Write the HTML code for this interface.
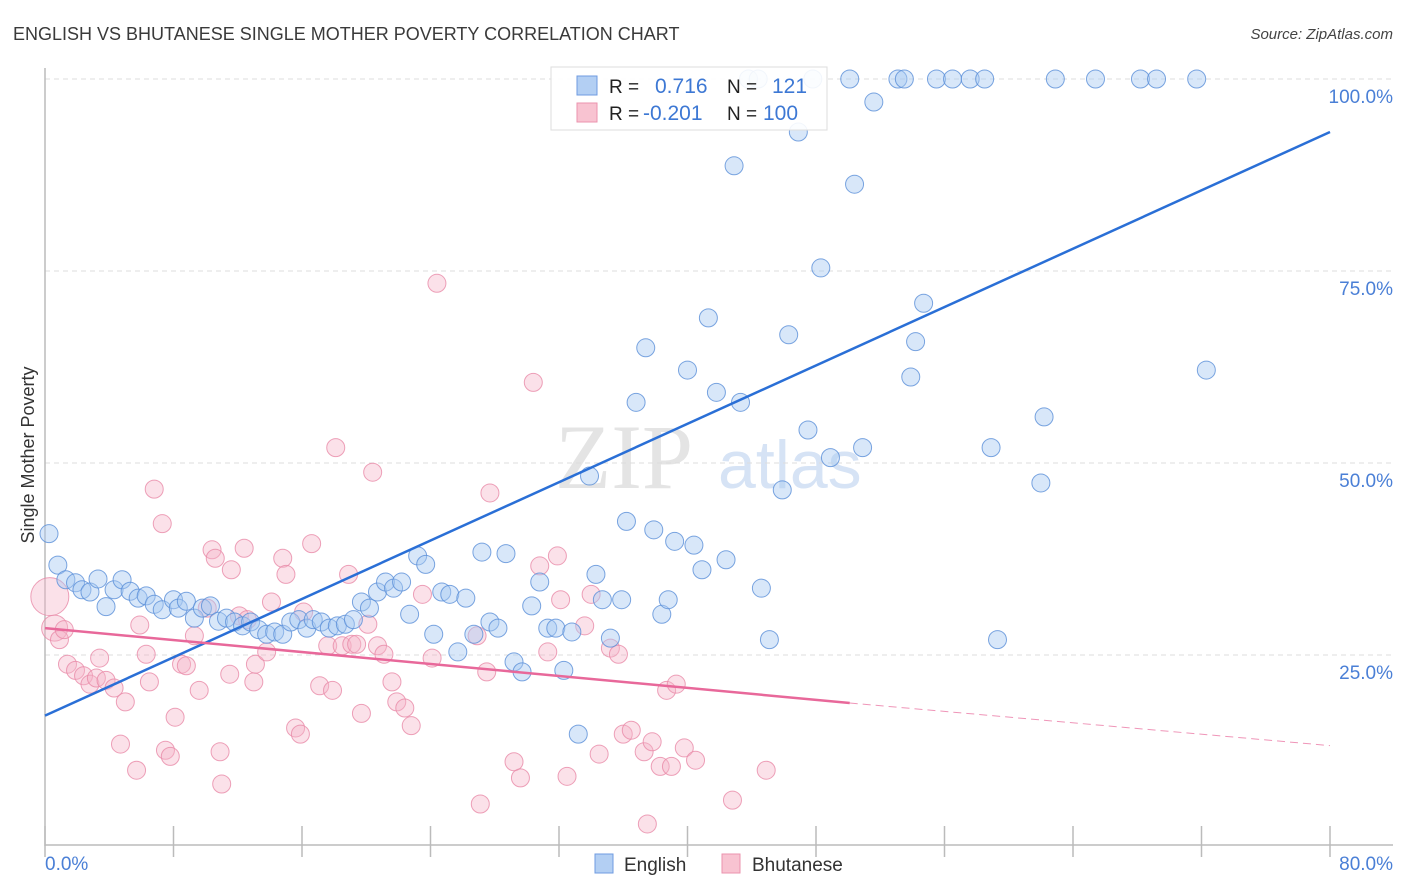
<!DOCTYPE html>
<html><head><meta charset="utf-8"><style>
body{margin:0;background:#fff;font-family:"Liberation Sans",sans-serif}
svg{display:block}
</style></head><body>
<svg id="chart" width="1406" height="892" xmlns="http://www.w3.org/2000/svg" font-family="Liberation Sans, sans-serif">
<text x="13" y="40" font-size="18" fill="#3a3a3a">ENGLISH VS BHUTANESE SINGLE MOTHER POVERTY CORRELATION CHART</text>
<text x="1393" y="39" font-size="15" fill="#444" font-style="italic" text-anchor="end">Source: ZipAtlas.com</text>
<text x="555" y="488" font-size="92" fill="#e4e4e4" font-family="Liberation Serif, serif">ZIP</text>
<text x="718" y="488" font-size="68" fill="#d6e3f5">atlas</text>
<text transform="translate(34,455) rotate(-90)" font-size="18" fill="#333" text-anchor="middle">Single Mother Poverty</text>
<g id="grid"></g>
<g id="axes"></g>
<g id="pts"></g>
<g id="trend"></g>
<g>
<rect x="551" y="67" width="276" height="63" fill="#fff" fill-opacity="0.9" stroke="#ddd"/>
<rect x="577" y="76" width="20" height="19" fill="#b3cff3" stroke="#6f9be0"/>
<rect x="577" y="103" width="20" height="19" fill="#f8c3d1" stroke="#eb93ae"/>
<text x="609" y="93" font-size="19" fill="#222">R =</text>
<text x="655" y="93" font-size="21" fill="#3d78d4">0.716</text>
<text x="727" y="93" font-size="19" fill="#222">N =</text>
<text x="772" y="93" font-size="21" fill="#3d78d4">121</text>
<text x="609" y="120" font-size="19" fill="#222">R =</text>
<text x="643" y="120" font-size="21" fill="#3d78d4">-0.201</text>
<text x="727" y="120" font-size="19" fill="#222">N =</text>
<text x="763" y="120" font-size="21" fill="#3d78d4">100</text>
</g>
<g>
<rect x="595" y="854" width="18" height="19" fill="#b3cff3" stroke="#6f9be0"/>
<text x="624" y="871" font-size="19" fill="#333">English</text>
<rect x="722" y="854" width="18" height="19" fill="#f8c3d1" stroke="#eb93ae"/>
<text x="752" y="871" font-size="19" fill="#333">Bhutanese</text>
</g>
</svg>
<script>
const yTicks=[25,50,75,100];
const yTickLabels=["25.0%","50.0%","75.0%","100.0%"];
const xTickCount=10;
const englishX=[0.25,0.8,1.3,1.9,2.3,2.8,3.3,3.8,4.3,4.8,5.3,5.8,6.3,6.8,7.3,8.0,8.3,8.8,9.3,9.8,10.3,10.8,11.3,11.8,12.3,12.8,13.3,13.8,14.3,14.8,15.3,15.8,16.3,16.7,17.2,17.7,18.2,18.7,19.2,19.7,20.2,20.7,21.2,21.7,22.2,22.7,23.2,23.7,24.2,24.7,25.2,25.7,26.2,26.7,27.2,27.7,28.2,28.7,29.2,29.7,30.3,30.8,31.3,31.8,32.3,32.8,33.2,33.9,34.3,34.7,35.2,35.9,36.2,36.8,37.4,37.9,38.4,38.8,39.2,40.0,40.4,40.9,41.3,41.8,42.4,42.9,43.3,43.8,44.4,44.6,45.1,45.9,46.3,46.9,47.5,47.8,48.3,48.9,50.1,50.4,50.9,51.6,53.1,53.5,53.9,54.2,54.7,55.5,56.5,57.6,58.5,58.9,59.3,62.0,62.2,62.9,65.4,68.2,69.2,71.7,72.3];
const englishY=[40.8,36.7,34.8,34.4,33.5,33.2,34.9,31.3,33.5,34.8,33.3,32.4,32.7,31.6,30.9,32.2,31.1,32.0,29.8,31.1,31.4,29.4,29.8,29.3,28.8,29.3,28.3,27.7,28.0,27.7,29.3,29.6,28.5,29.6,29.3,28.5,28.8,29.0,29.6,31.9,31.1,33.2,34.5,33.7,34.5,30.3,37.9,36.8,27.7,33.2,32.9,25.4,32.4,27.7,38.4,29.3,28.5,38.2,24.1,22.8,31.4,34.5,28.5,28.5,23.0,28.0,14.7,48.3,35.5,32.2,27.2,32.2,42.4,57.9,65.0,41.3,30.3,32.2,39.8,62.1,39.3,36.1,68.9,59.2,37.4,88.7,57.9,100,100,33.7,27.0,46.5,66.7,93.1,54.3,100,75.4,50.7,100,86.3,52.0,97.0,100,100,61.2,65.8,70.8,100,100,100,100,52.0,27.0,47.4,56.0,100,100,100,100,100,62.1];
const bhutaneseX=[0.3,0.6,0.9,1.2,1.4,1.9,2.4,2.8,3.2,3.4,3.8,4.3,4.7,5.0,5.7,5.9,6.3,6.5,6.8,7.3,7.5,7.8,8.1,8.5,8.8,9.3,9.6,10.1,10.4,10.6,10.9,11.0,11.5,11.6,12.1,12.4,12.6,13.0,13.1,13.8,14.1,14.8,15.0,15.6,15.9,16.1,16.6,17.1,17.6,17.9,18.1,18.5,18.9,19.1,19.4,19.7,20.1,20.4,20.7,21.1,21.6,21.9,22.4,22.8,23.5,24.1,24.4,26.9,27.1,27.5,27.7,29.2,29.6,30.4,30.8,31.3,31.9,32.1,32.5,33.6,34.0,34.5,35.2,35.7,36.0,36.5,37.3,37.5,37.8,38.3,38.7,39.0,39.3,39.8,40.5,42.8,44.9];
const bhutaneseY=[32.6,28.5,27.0,28.3,23.8,23.0,22.3,21.2,22.0,24.6,21.7,20.7,13.4,18.9,10.0,28.9,25.1,21.5,46.6,42.1,12.6,11.8,16.9,23.8,23.6,27.5,20.4,31.1,38.7,37.6,12.4,8.2,22.5,36.1,30.1,38.9,29.6,21.5,23.8,25.4,31.9,37.6,35.5,15.5,14.7,30.6,39.5,21.0,26.2,20.4,52.0,26.2,35.5,26.4,26.4,17.4,29.0,48.8,26.2,25.1,21.5,18.9,18.1,15.8,32.9,24.6,73.4,27.5,5.6,22.8,46.1,11.1,9.0,60.5,36.6,25.4,37.9,32.2,9.2,28.8,32.9,12.1,25.9,25.1,14.7,15.2,12.4,3.0,13.7,10.5,20.4,10.5,21.2,12.9,11.3,6.1,10.0];
const englishTrend=[17.1,93.1];
const bhutaneseTrend=[28.5,18.75,13.2];
const bhutaneseSolidEnd=50.1;

const NS="http://www.w3.org/2000/svg";
const X0=45,X1=1330,Y0=847,YS=7.68;
const sx=v=>X0+v/80*(X1-X0);
const sy=v=>Y0-v*YS;
function mk(tag,attrs,parent){const e=document.createElementNS(NS,tag);for(const k in attrs)e.setAttribute(k,attrs[k]);parent.appendChild(e);return e;}
const grid=document.getElementById('grid'),axes=document.getElementById('axes'),pts=document.getElementById('pts'),trend=document.getElementById('trend');
yTicks.forEach((t,i)=>{
 const l=mk('line',{x1:X0,x2:1393,y1:sy(t),y2:sy(t),stroke:'#ddd','stroke-dasharray':'5,4'},grid);
 
 
 const tx=mk('text',{x:1393,y:sy(t)+24,'font-size':19,fill:'#4a7fd6','text-anchor':'end'},grid);
 tx.textContent=yTickLabels[i];
 
 
});
const ya=mk('line',{x1:X0,x2:X0,y1:68,y2:846,stroke:'#bbb','stroke-width':1.5},axes);


const xa=mk('line',{x1:X0,x2:1393,y1:845,y2:845,stroke:'#bbb','stroke-width':1.5},axes);


for(let i=0;i<=xTickCount;i++){
 const x=sx(i*80/xTickCount);
 const t=mk('line',{x1:x,x2:x,y1:826,y2:857,stroke:'#bbb','stroke-width':1.5},axes);
 
 
}
const xl0=mk('text',{x:45,y:870,'font-size':19,fill:'#4a7fd6'},axes);xl0.textContent='0.0%';


const xl1=mk('text',{x:1393,y:870,'font-size':19,fill:'#4a7fd6','text-anchor':'end'},axes);xl1.textContent='80.0%';


bhutaneseX.forEach((v,i)=>{
 const r=i===0?19:(i===1?13:9);
 const c=mk('circle',{cx:sx(v),cy:sy(bhutaneseY[i]),r:r,fill:'#f6b4c7','fill-opacity':0.4,stroke:'#e889a7','stroke-opacity':0.8},pts);
 
 
});
englishX.forEach((v,i)=>{
 const c=mk('circle',{cx:sx(v),cy:sy(englishY[i]),r:9,fill:'#a9c9f1','fill-opacity':0.45,stroke:'#5a8ed8','stroke-opacity':0.8},pts);
 
 
});
const et=mk('line',{x1:sx(0),y1:sy(englishTrend[0]),x2:sx(80),y2:sy(englishTrend[1]),stroke:'#2a6fd6','stroke-width':2.5},trend);


const bt=mk('line',{x1:sx(0),y1:sy(bhutaneseTrend[0]),x2:sx(bhutaneseSolidEnd),y2:sy(bhutaneseTrend[1]),stroke:'#e8689a','stroke-width':2.5},trend);


const bd=mk('line',{x1:sx(bhutaneseSolidEnd),y1:sy(bhutaneseTrend[1]),x2:sx(80),y2:sy(bhutaneseTrend[2]),stroke:'#e8689a','stroke-width':1,'stroke-dasharray':'8,5','stroke-opacity':0.7},trend);


</script>
</body></html>
